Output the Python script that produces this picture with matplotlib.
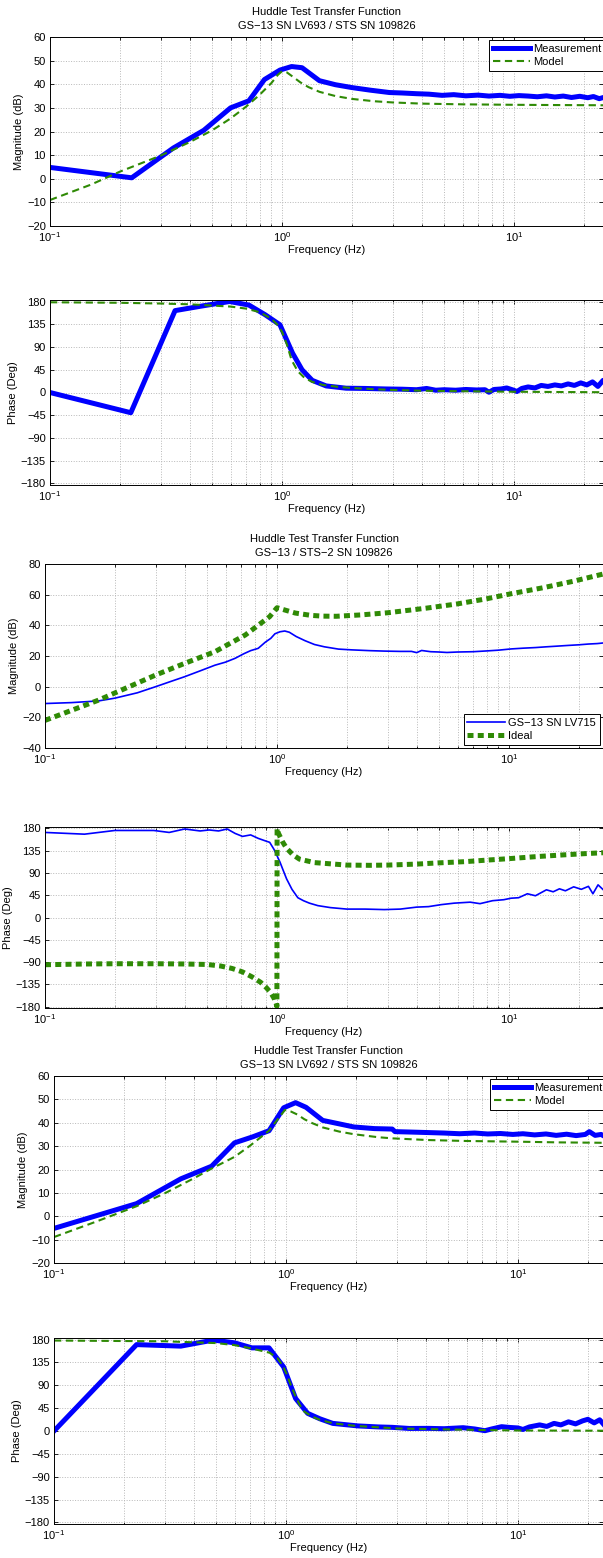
import matplotlib
matplotlib.use("Agg")
import matplotlib.pyplot as plt
from matplotlib.ticker import LogLocator, NullFormatter, MultipleLocator

plt.rcParams['font.family'] = ['Liberation Sans', 'DejaVu Sans']
plt.rcParams['font.size'] = 8

BLUE = '#0000ff'
GREEN = '#2f8a05'
FS = 8

# ---- figure 1: GS-13 SN LV693 ----
f1_meas = [0.1, 0.225, 0.34, 0.46, 0.6, 0.72, 0.84, 0.98, 1.1, 1.22, 1.45, 1.7, 2.0, 2.4,
           2.9, 3.3, 3.8, 4.3, 4.9, 5.5, 6.2, 7.0, 7.8, 8.7, 9.6, 10.5, 11.5, 12.6, 13.8,
           15.0, 16.3, 17.7, 19.2, 20.8, 22.0, 23.3, 24.5, 25.5]
mag1_meas = [4.8, 0.4, 13.0, 20.5, 30.0, 33.0, 42.0, 46.0, 47.5, 47.0, 41.5, 39.8, 38.6, 37.5,
             36.5, 36.3, 36.0, 35.8, 35.3, 35.6, 35.1, 35.4, 35.0, 35.3, 34.9, 35.2, 35.0, 34.7,
             35.1, 34.6, 35.0, 34.4, 34.9, 34.3, 34.8, 33.9, 34.5, 34.0]
f1_model = [0.1, 0.15, 0.2, 0.3, 0.4, 0.5, 0.6, 0.7, 0.8, 0.9, 0.96, 1.0, 1.05, 1.12, 1.2,
            1.3, 1.45, 1.7, 2.0, 2.5, 3.0, 4.0, 6.0, 10, 15, 25.5]
mag1_model = [-9, -2.5, 3.0, 9.8, 15.5, 20.5, 25.5, 30.5, 35.5, 40.5, 44, 45.5, 45, 43, 40.8,
              38.8, 36.8, 35, 33.8, 32.8, 32.3, 31.8, 31.5, 31.3, 31.2, 31.1]

f2_meas = [0.1, 0.223, 0.346, 0.45, 0.594, 0.72, 0.845, 0.98, 1.11, 1.22, 1.35, 1.55, 1.89,
           2.3, 2.8, 3.3, 3.8, 4.2, 4.6, 5.0, 5.6, 6.2, 6.9, 7.5, 7.8, 8.2, 8.8, 9.3, 9.9,
           10.3, 10.8, 11.5, 12.3, 13.1, 14.0, 15.0, 16.0, 17.1, 18.2, 19.4, 20.6, 21.8,
           23.0, 24.2, 25.5]
ph2_meas = [0, -40, 162, 171, 180, 173, 154, 134, 78, 45, 24, 13, 8.5, 8, 7, 6.5, 5.5, 8,
            4.5, 5.5, 4.5, 6, 5, 5.5, 0.5, 6, 7, 9, 5, 2, 8, 11, 9, 14, 12, 15, 13, 17, 14,
            19, 15, 21, 12, 24, 20]
f2_model = [0.1, 0.2, 0.3, 0.4, 0.5, 0.6, 0.7, 0.8, 0.9, 0.96, 1.0, 1.05, 1.1, 1.17, 1.25,
            1.35, 1.5, 1.75, 2.0, 2.5, 3, 4, 6, 10, 15, 25.5]
ph2_model = [178.5, 177.5, 176, 174.5, 172, 170, 166, 159, 146, 133, 120, 95, 64, 42, 29, 21,
             15, 11, 9, 6.5, 5, 3.5, 2.5, 1.5, 1, 0.5]

# ---- figure 2: GS-13 / STS-2 ----
f3_meas = [0.1, 0.13, 0.17, 0.2, 0.25, 0.3, 0.35, 0.4, 0.47, 0.54, 0.6, 0.66, 0.72, 0.77,
           0.83, 0.89, 0.94, 0.98, 1.03, 1.08, 1.13, 1.21, 1.32, 1.45, 1.6, 1.84, 2.1, 2.5,
           2.9, 3.4, 3.8, 4.0, 4.2, 4.6, 5.0, 5.4, 6.0, 7.0, 8.0, 9.0, 10.2, 11.5, 13, 14.5,
           16, 18, 20, 22, 24, 25.5]
mag3_meas = [-11, -10.4, -9.3, -7.5, -4, 0, 3.5, 6.5, 10.5, 14, 16, 18.5, 21.5, 23.5, 25, 29,
             31.5, 34.5, 35.8, 36.3, 35.5, 32.7, 30, 27.5, 26, 24.5, 24, 23.5, 23.2, 23, 23,
             22.2, 23.6, 22.8, 22.6, 22.3, 22.6, 22.8, 23.3, 23.8, 24.6, 25.1, 25.5, 26, 26.4,
             26.9, 27.3, 27.8, 28.1, 28.5]
f3_ideal = [0.1, 0.17, 0.3, 0.4, 0.54, 0.73, 0.93, 1.0, 1.08, 1.2, 1.4, 1.57, 1.8, 2.3, 3,
            4.4, 6, 8, 10.2, 14, 19, 25.5]
mag3_ideal = [-22, -8.8, 7.6, 15.2, 22.8, 33.7, 45.7, 51.5, 50, 48, 46.5, 46, 45.9, 46.8, 48.2,
              51.2, 54, 57.3, 60.6, 64.5, 68.8, 73.5]

f4_meas = [0.1, 0.148, 0.2, 0.294, 0.343, 0.4, 0.466, 0.51, 0.56, 0.61, 0.66, 0.71, 0.77,
           0.83, 0.89, 0.93, 0.97, 1.0, 1.03, 1.06, 1.1, 1.16, 1.23, 1.3, 1.38, 1.5, 1.7, 2.0,
           2.4, 2.9, 3.4, 4.0, 4.5, 5.1, 5.8, 6.8, 7.5, 8.5, 9.5, 10.2, 11.0, 12.0, 13.0, 14.5,
           15.5, 16.5, 17.5, 19.0, 20.5, 22.0, 23.0, 24.2, 25.5]
ph4_meas = [172, 168.5, 176, 176, 172, 179, 175, 177, 175, 179, 170, 164, 167, 160, 155, 152,
            138, 125, 112, 97, 78, 57, 40, 34, 29, 24, 20, 17, 17, 16, 17, 21, 22, 26, 29, 31,
            28, 34, 36, 39, 40, 48, 44, 56, 52, 58, 54, 62, 57, 63, 48, 66, 56]
f4_ideal = [0.1, 0.15, 0.2, 0.3, 0.4, 0.5, 0.57, 0.64, 0.71, 0.78, 0.85, 0.9, 0.94, 0.97,
            0.99, 0.999, 1.001, 1.015, 1.035, 1.06, 1.1, 1.17, 1.25, 1.45, 2.0, 2.5, 3.0, 4.0,
            5.0, 6.5, 8.0, 10, 13, 17, 21, 25.5]
ph4_ideal = [-95.5, -94, -93.5, -93.5, -94, -95, -98, -103, -110, -120, -131, -142, -152,
             -163, -173, -180, 180, 170, 162, 152, 140, 127, 118, 111, 106, 105.5, 106, 108,
             110.5, 113, 116, 119, 123, 126.5, 129, 131]

# ---- figure 3: GS-13 SN LV692 ----
f5_meas = [0.1, 0.227, 0.352, 0.478, 0.6, 0.72, 0.845, 0.977, 1.1, 1.22, 1.44, 1.7, 1.96,
           2.4, 2.87, 2.95, 3.5, 4.1, 4.8, 5.6, 6.5, 7.4, 8.4, 9.5, 10.5, 11.8, 13.2, 14.6,
           16.2, 17.8, 19.5, 20.3, 21.5, 22.8, 24.0, 25.0]
mag5_meas = [-5.2, 5.4, 16, 21.4, 31.4, 34, 36.6, 46.4, 48.6, 46.6, 41, 39.5, 38.2, 37.5,
             37.3, 36.2, 36, 35.8, 35.6, 35.3, 35.6, 35.2, 35.4, 35.0, 35.3, 34.8, 35.2, 34.6,
             35.1, 34.5, 35.0, 36.2, 34.6, 35.0, 33.8, 34.5]
f5_model = [0.1, 0.15, 0.227, 0.3, 0.4, 0.478, 0.6, 0.7, 0.845, 0.93, 0.99, 1.05, 1.12, 1.2,
            1.3, 1.44, 1.7, 1.96, 2.5, 2.9, 4.1, 6, 10, 15, 25]
mag5_model = [-8.9, -2.5, 4.3, 9.8, 16.2, 20.4, 25.4, 30.2, 36.6, 42, 45.5, 44.8, 43.5, 41.5,
              39.8, 38.0, 36.2, 35.1, 33.8, 33.3, 32.6, 32.2, 31.9, 31.6, 31.4]

f6_meas = [0.1, 0.227, 0.352, 0.487, 0.6, 0.713, 0.845, 0.977, 1.1, 1.24, 1.4, 1.59, 2.04,
           2.5, 2.87, 3.4, 4.1, 4.8, 5.8, 6.5, 7.2, 7.7, 8.5, 9.2, 10.0, 10.5, 11.2, 12.4,
           13.3, 14.3, 15.3, 16.5, 17.7, 19.0, 20.0, 21.3, 22.5, 23.5, 25.0]
ph6_meas = [0, 170, 167, 179, 173.5, 163.6, 163.6, 126, 64, 34.7, 24, 15, 10, 8, 7.2, 5, 5.2,
            4.5, 6.5, 4, 0.6, 4, 8.5, 7, 6, 3, 8, 12, 9, 15, 12, 18, 14, 20, 23, 16, 22, 12, 25]
f6_model = [0.1, 0.3, 0.5, 0.6, 0.7, 0.78, 0.85, 0.92, 0.97, 1.0, 1.05, 1.1, 1.15, 1.2, 1.3,
            1.4, 1.6, 2, 3, 5, 10, 25]
ph6_model = [178, 176.5, 173, 169, 163, 158, 154, 143, 128, 115, 90, 68, 50, 38, 28, 22, 15,
             10, 5, 3, 1, 0.5]

W, H = 603, 1558
fig = plt.figure(figsize=(W / 100, H / 100), dpi=100)


def make_axes(left, top, bottom):
    ax = fig.add_axes([left / W, 1 - bottom / H, 1 - left / W, (bottom - top) / H])
    ax.set_xscale('log')
    ax.set_xlim(0.1, 10 ** (-1 + (W - left) / 232))
    ax.xaxis.set_major_locator(LogLocator(base=10))
    ax.xaxis.set_minor_locator(LogLocator(base=10, subs=range(2, 10)))
    ax.xaxis.set_minor_formatter(NullFormatter())
    ax.grid(True, which='major', color='#b8b8b8', linestyle=':', linewidth=0.7)
    ax.grid(True, which='minor', axis='x', color='#b8b8b8', linestyle=':', linewidth=0.7)
    ax.tick_params(which='both', direction='in', top=True, right=True, labelsize=FS,
                   width=0.6, pad=3)
    ax.tick_params(which='major', length=3)
    ax.tick_params(which='minor', length=1.8)
    for s in ax.spines.values():
        s.set_linewidth(0.7)
    ax.set_xlabel('Frequency (Hz)', fontsize=FS, labelpad=1)
    return ax


def mag_axes(ax, lo, hi, step):
    ax.set_ylim(lo, hi)
    ax.yaxis.set_major_locator(MultipleLocator(step))
    ax.set_ylabel('Magnitude (dB)', fontsize=FS, labelpad=2)


def phase_axes(ax):
    ax.set_ylim(-183, 183)
    ax.set_yticks([-180, -135, -90, -45, 0, 45, 90, 135, 180])
    ax.set_ylabel('Phase (Deg)', fontsize=FS, labelpad=2)


def add_legend(ax, loc, anchor):
    leg = ax.legend(loc=loc, bbox_to_anchor=anchor, fontsize=FS, handlelength=3.4,
                    fancybox=False, edgecolor='black', framealpha=1, borderpad=0.35,
                    labelspacing=0.25, handletextpad=0.25, borderaxespad=0.3)
    leg.get_frame().set_linewidth(0.7)


def add_title(ax, text):
    ax.set_title(text, fontsize=FS, pad=6, linespacing=1.45)


# figure 1
ax = make_axes(50, 37, 226)
ax.plot(f1_meas, mag1_meas, color=BLUE, lw=3.6, solid_joinstyle='round', label='Measurement')
ax.plot(f1_model, mag1_model, color=GREEN, lw=1.5, ls='--', dashes=(3.5, 2.2), label='Model')
mag_axes(ax, -20, 60, 10)
add_title(ax, 'Huddle Test Transfer Function\nGS\u221213 SN LV693 / STS SN 109826')
add_legend(ax, 'upper right', (1.01, 1.0))

ax = make_axes(50, 300, 485)
ax.plot(f2_meas, ph2_meas, color=BLUE, lw=3.6, solid_joinstyle='round')
ax.plot(f2_model, ph2_model, color=GREEN, lw=1.5, ls='--', dashes=(3.5, 2.2))
phase_axes(ax)

# figure 2
ax = make_axes(45, 564, 748)
ax.plot(f3_meas, mag3_meas, color=BLUE, lw=1.2, label='GS\u221213 SN LV715')
ax.plot(f3_ideal, mag3_ideal, color=GREEN, lw=3.6, dashes=(1.2, 0.85), label='Ideal')
mag_axes(ax, -40, 80, 20)
add_title(ax, 'Huddle Test Transfer Function\nGS\u221213 / STS\u22122 SN 109826')
add_legend(ax, 'lower right', (1.0, 0.0))

ax = make_axes(45, 827, 1008)
ax.plot(f4_meas, ph4_meas, color=BLUE, lw=1.2)
ax.plot(f4_ideal, ph4_ideal, color=GREEN, lw=3.6, dashes=(1.2, 0.85))
phase_axes(ax)

# figure 3
ax = make_axes(54, 1076, 1263)
ax.plot(f5_meas, mag5_meas, color=BLUE, lw=3.6, solid_joinstyle='round', label='Measurement')
ax.plot(f5_model, mag5_model, color=GREEN, lw=1.5, ls='--', dashes=(3.5, 2.2), label='Model')
mag_axes(ax, -20, 60, 10)
add_title(ax, 'Huddle Test Transfer Function\nGS\u221213 SN LV692 / STS SN 109826')
add_legend(ax, 'upper right', (1.012, 1.0))

ax = make_axes(54, 1338, 1524)
ax.plot(f6_meas, ph6_meas, color=BLUE, lw=3.6, solid_joinstyle='round')
ax.plot(f6_model, ph6_model, color=GREEN, lw=1.5, ls='--', dashes=(3.5, 2.2))
phase_axes(ax)

fig.savefig('out.png', dpi=100, facecolor='white')
